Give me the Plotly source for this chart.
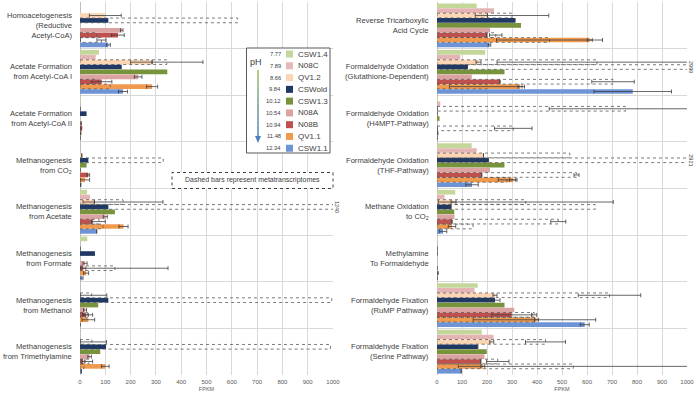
import plotly.graph_objects as go

# ---------------- data ----------------
samples = ["CSW1.4", "N08C", "QV1.2", "CSWold", "CSW1.3", "N08A", "N08B", "QV1.1", "CSW1.1"]
ph_values = ["7.77", "7.89", "8.66", "9.84", "10.12", "10.54", "10.94", "11.48", "12.34"]

left_categories = [
    "Homoacetogenesis<br>(Reductive<br>Acetyl-CoA)",
    "Acetate Formation<br>from Acetyl-CoA I",
    "Acetate Formation<br>from Acetyl-CoA II",
    "Methanogenesis<br>from CO<sub>2</sub>",
    "Methanogenesis<br>from Acetate",
    "Methanogenesis<br>from Formate",
    "Methanogenesis<br>from Methanol",
    "Methanogenesis<br>from Trimethylamine",
]
right_categories = [
    "Reverse Tricarboxylic<br>Acid Cycle",
    "Formaldehyde Oxidation<br>(Glutathione-Dependent)",
    "Formaldehyde Oxidation<br>(H4MPT-Pathway)",
    "Formaldehyde Oxidation<br>(THF-Pathway)",
    "Methane Oxidation<br>to CO<sub>2</sub>",
    "Methylamine<br>To Formaldehyde",
    "Formaldehyde Fixation<br>(RuMP Pathway)",
    "Formaldehyde Fixation<br>(Serine Pathway)",
]

# metagenome FPKM (solid bars), left panel
left_CSW1_4 = [0, 75, 2, 0, 28, 29, 0, 0]
left_N08C = [0, 62, 0, 0, 40, 0, 0, 0]
left_QV1_2 = [100, 285, 0, 7, 57, 0, 0, 0]
left_CSWold = [112, 165, 26, 33, 112, 59, 112, 103]
left_CSW1_3 = [0, 345, 0, 26, 138, 0, 72, 80]
left_N08A = [165, 230, 4, 0, 100, 20, 20, 38]
left_N08B = [150, 86, 4, 33, 46, 13, 24, 12]
left_QV1_1 = [0, 285, 3, 20, 172, 24, 33, 100]
left_CSW1_1 = [112, 170, 0, 3, 66, 5, 0, 5]
# error bars, left panel
left_err_QV1_2 = [63, 0, 0, 0, 0, 0, 0, 0]
left_err_N08A = [5, 15, 0, 0, 8, 8, 6, 7]
left_err_N08B = [25, 40, 3, 5, 0, 10, 9, 5]
left_err_QV1_1 = [0, 22, 0, 18, 18, 10, 25, 15]
left_err_CSW1_1 = [8, 18, 0, 0, 0, 7, 0, 0]

# metagenome FPKM, right panel
right_CSW1_4 = [159, 193, 3, 139, 73, 2, 163, 179]
right_N08C = [228, 93, 13, 159, 30, 0, 150, 226]
right_QV1_2 = [202, 166, 0, 186, 66, 0, 232, 219]
right_CSWold = [312, 122, 0, 206, 56, 0, 232, 163]
right_CSW1_3 = [336, 270, 10, 270, 69, 0, 270, 199]
right_N08A = [212, 139, 0, 212, 70, 0, 309, 190]
right_N08B = [199, 252, 0, 179, 60, 0, 299, 175]
right_QV1_1 = [611, 332, 3, 305, 60, 3, 398, 183]
right_CSW1_1 = [210, 783, 0, 140, 24, 0, 591, 97]
right_err_QV1_2 = [0, 10, 0, 0, 10, 0, 8, 8]
right_err_CSWold = [0, 0, 0, 0, 0, 0, 20, 0]
right_err_N08B = [0, 0, 0, 0, 0, 0, 80, 0]
right_err_QV1_1 = [10, 8, 0, 15, 15, 2, 8, 8]
right_err_CSW1_1 = [5, 155, 0, 25, 15, 0, 18, 0]

# metatranscriptome FPKM (dashed bars)
left_T_QV1_2 = [0, 343, 0, 0, 170, 0, 46, 47]
left_Terr_QV1_2 = [0, 143, 0, 0, 158, 0, 60, 58]
left_T_CSWold = [623, 0, 0, 329, 1240, 0, 995, 990]
left_T_N08B = [66, 70, 0, 0, 75, 138, 30, 35]
left_Terr_N08B = [0, 0, 0, 0, 25, 210, 20, 15]
left_T_QV1_1 = [85, 119, 0, 0, 91, 0, 0, 15]
left_Terr_QV1_1 = [18, 0, 0, 0, 0, 0, 0, 0]

right_T_QV1_2 = [300, 640, 754, 531, 355, 0, 690, 434]
right_Terr_QV1_2 = [147, 400, 305, 0, 350, 0, 125, 80]
right_T_CSWold = [0, 2990, 0, 2921, 633, 0, 0, 0]
right_T_N08B = [235, 704, 305, 558, 485, 0, 389, 243]
right_Terr_N08B = [25, 85, 75, 10, 30, 0, 10, 45]
right_T_QV1_1 = [450, 200, 0, 280, 144, 0, 390, 545]
right_Terr_QV1_1 = [212, 150, 0, 35, 0, 0, 245, 460]

# ---------------- styles ----------------
colors = {
    "CSW1.4": "#c4d79b", "N08C": "#e6b9b8", "QV1.2": "#fcd5b4", "CSWold": "#1f3864",
    "CSW1.3": "#77933c", "N08A": "#dba3a1", "N08B": "#c0504d", "QV1.1": "#f09a4e",
    "CSW1.1": "#6f94d6",
}
FONT = "Liberation Sans, Arial, sans-serif"
TXT = "#404040"
GRID = "#d9d9d9"
W = 0.1
STEP = 0.105
OFF0 = -4 * STEP - W / 2

FIG_W, FIG_H = 696, 399


def px(x):
    return x / FIG_W


def py(y):
    return 1 - y / FIG_H


panels = {
    "left": dict(
        cats=left_categories, xa="x", ya="y", label_x=74,
        meta=[left_CSW1_4, left_N08C, left_QV1_2, left_CSWold, left_CSW1_3,
              left_N08A, left_N08B, left_QV1_1, left_CSW1_1],
        err={"QV1.2": left_err_QV1_2, "N08A": left_err_N08A, "N08B": left_err_N08B,
             "QV1.1": left_err_QV1_1, "CSW1.1": left_err_CSW1_1},
        trans={"QV1.2": (left_T_QV1_2, left_Terr_QV1_2), "CSWold": (left_T_CSWold, None),
               "N08B": (left_T_N08B, left_Terr_N08B), "QV1.1": (left_T_QV1_1, left_Terr_QV1_1)},
    ),
    "right": dict(
        cats=right_categories, xa="x2", ya="y2", label_x=431,
        meta=[right_CSW1_4, right_N08C, right_QV1_2, right_CSWold, right_CSW1_3,
              right_N08A, right_N08B, right_QV1_1, right_CSW1_1],
        err={"QV1.2": right_err_QV1_2, "CSWold": right_err_CSWold, "N08B": right_err_N08B,
             "QV1.1": right_err_QV1_1, "CSW1.1": right_err_CSW1_1},
        trans={"QV1.2": (right_T_QV1_2, right_Terr_QV1_2), "CSWold": (right_T_CSWold, None),
               "N08B": (right_T_N08B, right_Terr_N08B), "QV1.1": (right_T_QV1_1, right_Terr_QV1_1)},
    ),
}

fig = go.Figure()
annotations = []

for name, p in panels.items():
    idx = list(range(len(p["cats"])))
    # category labels
    for c, lab in zip(idx, p["cats"]):
        annotations.append(dict(x=px(p["label_x"]), y=c, xref="paper", yref=p["ya"], text=lab,
                                showarrow=False, xanchor="right", yanchor="middle", align="right",
                                font=dict(size=7.6, color=TXT, family=FONT)))
    for i, s in enumerate(samples):
        marker = dict(color=colors[s], line=dict(width=0))
        if s == "N08C":
            marker["pattern"] = dict(shape="x", fgcolor="#c87d7b", size=3, solidity=0.2)
        e = p["err"].get(s)
        fig.add_trace(go.Bar(
            x=p["meta"][i], y=idx, orientation="h", width=W, offset=OFF0 + i * STEP,
            marker=marker, xaxis=p["xa"], yaxis=p["ya"], showlegend=False,
            error_x=dict(type="data", array=e, color="#404040", thickness=0.8, width=2,
                         visible=e is not None),
        ))
    # dashed transcriptome bars
    for s, (vals, errs) in p["trans"].items():
        i = samples.index(s)
        y0 = OFF0 + i * STEP
        xs, ys = [], []
        for c, v in zip(idx, vals):
            if v > 0:
                xs += [0, v, v, 0, 0, None]
                ys += [c + y0, c + y0, c + y0 + W, c + y0 + W, c + y0, None]
                if v > 1000:
                    annotations.append(dict(
                        x=1000, y=c + y0 + W / 2, xref=p["xa"], yref=p["ya"], text=str(v),
                        showarrow=False, textangle=90, xshift=4,
                        font=dict(size=5.5, color=TXT, family=FONT)))
        fig.add_trace(go.Scatter(
            x=xs, y=ys, mode="lines", line=dict(color="#595959", width=0.8, dash="dot"),
            xaxis=p["xa"], yaxis=p["ya"], showlegend=False, hoverinfo="skip"))
        if errs is not None:
            ex, ey, ee = [], [], []
            for c, v, er in zip(idx, vals, errs):
                if v > 0 and er > 0:
                    ex.append(v)
                    ey.append(c + y0 + W / 2)
                    ee.append(er)
            fig.add_trace(go.Scatter(
                x=ex, y=ey, mode="markers", marker=dict(size=1, color="rgba(0,0,0,0)"),
                error_x=dict(type="data", array=ee, color="#404040", thickness=0.8, width=2),
                xaxis=p["xa"], yaxis=p["ya"], showlegend=False, hoverinfo="skip"))

xcommon = dict(range=[0, 1000], dtick=100, tick0=0, showgrid=True, gridcolor=GRID, gridwidth=1,
               zeroline=True, zerolinecolor="#bfbfbf", zerolinewidth=1, showline=False,
               automargin=False, ticks="", ticklen=0, ticklabelstandoff=2,
               tickfont=dict(size=6, color="#595959", family=FONT),
               title=dict(text="FPKM", font=dict(size=5.5, color="#595959", family=FONT), standoff=3))
ycommon = dict(range=[7.5, -0.5], tickvals=list(range(8)), showgrid=False, zeroline=False,
               showline=False, ticks="", showticklabels=False, automargin=False,
               minor=dict(tickvals=[k - 0.5 for k in range(9)], showgrid=True, gridcolor=GRID,
                          gridwidth=1, ticks=""))

fig.update_layout(
    width=FIG_W, height=FIG_H, margin=dict(l=0, r=0, t=0, b=0, autoexpand=False),
    paper_bgcolor="white", plot_bgcolor="white", barmode="overlay",
    font=dict(family=FONT, color=TXT),
    xaxis=dict(domain=[px(80), px(333)], anchor="y", **xcommon),
    yaxis=dict(domain=[py(375), py(2)], anchor="x", **ycommon),
    xaxis2=dict(domain=[px(437), px(687)], anchor="y2", **xcommon),
    yaxis2=dict(domain=[py(375), py(2)], anchor="x2", **ycommon),
)

# ---------------- manual legend ----------------
shapes = []
shapes.append(dict(type="rect", xref="paper", yref="paper", x0=px(246.5), x1=px(330),
                   y0=py(153), y1=py(48), line=dict(color="#595959", width=1),
                   fillcolor="white", layer="above"))
row0, rowstep = 54, 11.78
for i, s in enumerate(samples):
    yc = row0 + i * rowstep
    shapes.append(dict(type="rect", xref="paper", yref="paper", x0=px(286), x1=px(293),
                       y0=py(yc + 3.5), y1=py(yc - 3.5), fillcolor=colors[s],
                       line=dict(width=0), layer="above"))
    annotations.append(dict(x=px(296), y=py(yc), xref="paper", yref="paper", text=s,
                            showarrow=False, xanchor="left", yanchor="middle",
                            font=dict(size=8, color=TXT, family=FONT)))
    annotations.append(dict(x=px(283), y=py(yc), xref="paper", yref="paper", text=ph_values[i],
                            showarrow=False, xanchor="right", yanchor="middle",
                            font=dict(size=5.8, color=TXT, family=FONT)))
annotations.append(dict(x=px(256), y=py(62), xref="paper", yref="paper", text="pH",
                        showarrow=False, xanchor="center", yanchor="middle",
                        font=dict(size=9, color=TXT, family=FONT)))
# gradient arrow (green to blue)
g0, g1 = (155, 187, 89), (79, 129, 189)
nseg = 12
ya0, ya1 = 70, 137
for k in range(nseg):
    t = k / (nseg - 1)
    col = "rgb(%d,%d,%d)" % tuple(int(g0[j] + (g1[j] - g0[j]) * t) for j in range(3))
    shapes.append(dict(type="line", xref="paper", yref="paper", x0=px(258), x1=px(258),
                       y0=py(ya0 + (ya1 - ya0) * k / nseg), y1=py(ya0 + (ya1 - ya0) * (k + 1) / nseg),
                       line=dict(color=col, width=1.5), layer="above"))
shapes.append(dict(type="path", xref="paper", yref="paper", layer="above",
                   path="M %f,%f L %f,%f L %f,%f Z" % (px(255), py(136), px(261), py(136), px(258), py(143)),
                   fillcolor="#4f81bd", line=dict(width=0)))

# dashed note box
shapes.append(dict(type="rect", xref="paper", yref="paper", x0=px(172), x1=px(333),
                   y0=py(188.5), y1=py(172.5), line=dict(color="#404040", width=1, dash="dot"),
                   fillcolor="white", layer="above"))
annotations.append(dict(x=px(252.5), y=py(180.5), xref="paper", yref="paper",
                        text="Dashed bars represent metatranscriptomes", showarrow=False,
                        font=dict(size=7, color=TXT, family=FONT)))

fig.update_layout(shapes=shapes, annotations=annotations)
fig.write_html("out.html", config={"displayModeBar": False},
               post_script="document.body.style.margin='0px';document.body.style.overflow='hidden';")
